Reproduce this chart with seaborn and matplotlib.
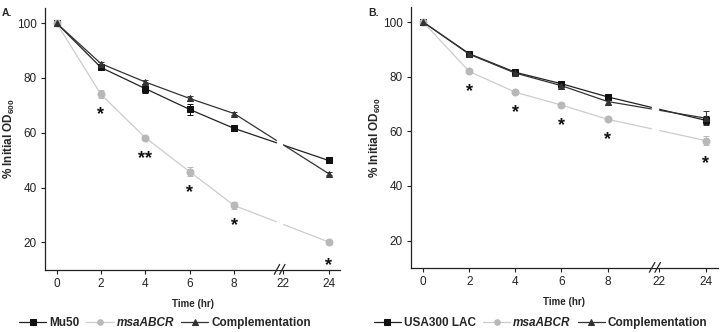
import numpy as np
import pandas as pd
import seaborn as sns
import matplotlib.pyplot as plt

# time points (hr) and where they sit on the broken axis
times = [0, 2, 4, 6, 8, 24]
tick_times = [0, 2, 4, 6, 8, 22, 24]
break_pos = 10.05


def axis_pos(t):
    # 0-8 linear, then axis break, 22 and 24 squeezed in after it
    t = np.asarray(t, dtype=float)
    return np.where(t <= 8, t, 10.22 + (t - 22) * 1.02)


# panel A
strains_a = ["Mu50", "msaABCR", "Complementation"]
mu50 = [100, 83.8, 76.1, 68.5, 61.6, 49.9]
mu50_err = [0.5, 0.8, 1.5, 2.0, 0.8, 0.8]
msa_a = [100, 74.0, 58.2, 45.8, 33.5, 20.2]
msa_a_err = [0.5, 1.5, 0.6, 1.6, 1.2, 0.6]
comp_a = [100, 85.2, 78.5, 72.5, 67.0, 45.1]
comp_a_err = [0.5, 0.7, 0.8, 1.0, 0.6, 0.6]
stars_a = ["", "*", "**", "*", "*", "*"]

# panel B
strains_b = ["USA300 LAC", "msaABCR", "Complementation"]
lac = [100, 88.4, 81.6, 77.4, 72.6, 64.0]
lac_err = [0.5, 0.6, 0.8, 1.0, 0.8, 1.5]
msa_b = [100, 81.9, 74.3, 69.6, 64.4, 56.6]
msa_b_err = [0.5, 0.5, 0.5, 0.5, 0.5, 1.5]
comp_b = [100, 88.2, 81.3, 76.7, 70.9, 64.8]
comp_b_err = [0.5, 0.6, 0.8, 1.4, 1.2, 2.5]
stars_b = ["", "*", "*", "*", "*", "*"]

sns.set_style("ticks")
plt.rcParams["font.family"] = ["Liberation Sans", "DejaVu Sans"]
plt.rcParams["mathtext.fontset"] = "custom"
plt.rcParams["mathtext.rm"] = "Liberation Sans"
plt.rcParams["mathtext.bf"] = "Liberation Sans:bold"

colors = ["#111111", "#b8b8b8", "#333333"]
line_colors = ["#222222", "#cccccc", "#333333"]
markers = ["s", "o", "^"]
msizes = [4.3, 5.0, 5.0]

fig = plt.figure(figsize=(7.2, 3.32), dpi=100)
ax_a = fig.add_axes([0.0625, 0.187, 0.41, 0.789])
ax_b = fig.add_axes([0.571, 0.193, 0.426, 0.786])


def draw_panel(ax, strains, series, errs, stars, label, leg_x):
    rows = []
    for name, vals in zip(strains, series):
        for t, v in zip(times, vals):
            rows.append({"strain": name, "time": t, "pos": float(axis_pos(t)), "od": v})
    df = pd.DataFrame(rows)
    for name, vals, err, c, lc, m, ms in zip(strains, series, errs, colors,
                                             line_colors, markers, msizes):
        sub = df[df["strain"] == name]
        ax.errorbar(sub["pos"], sub["od"], yerr=err, fmt="none", ecolor=c,
                    elinewidth=0.7, capsize=2, capthick=0.7, zorder=2)
        sns.lineplot(data=sub, x="pos", y="od", ax=ax, color=lc, lw=0.9,
                     marker=m, markersize=ms,
                     markerfacecolor=c, markeredgecolor=c, label=name, zorder=3)
    # asterisks under the mutant points
    msa = series[1]
    for t, v, s in zip(times, msa, stars):
        if s:
            off = 8.5 if t == 24 else 7.5
            ax.text(float(axis_pos(t)), v - off, s, ha="center", va="center",
                    fontsize=13, fontweight="bold", color="#111111")
    ax.set_xlim(-0.52, 12.78)
    ax.set_ylim(10, 105.5)
    ax.set_yticks([20, 40, 60, 80, 100])
    ax.set_xticks(axis_pos(tick_times))
    ax.set_xticklabels([str(t) for t in tick_times])
    ax.tick_params(labelsize=8.5, colors="#222222", length=3, width=0.8, pad=3)
    for sp in ["left", "bottom"]:
        ax.spines[sp].set_linewidth(0.9)
        ax.spines[sp].set_color("#222222")
    sns.despine(ax=ax)
    # axis break: white band through the lines, // on the axis
    ax.axvspan(break_pos - 0.12, break_pos + 0.12, color="white", zorder=4)
    for dx in (-0.12, 0.12):
        ax.plot([break_pos + dx - 0.12, break_pos + dx + 0.12], [8.4, 12.0],
                color="#222222", lw=0.9, clip_on=False, zorder=5)
    ax.set_xlabel("Time (hr)", fontsize=7, fontweight="bold", labelpad=6)
    ax.set_ylabel(r"% Initial OD$_{\bf 600}$", fontsize=8.5, fontweight="bold",
                  labelpad=0)
    handles, labels = ax.get_legend_handles_labels()
    ax.get_legend().remove()
    leg = fig.legend(handles, labels, loc="center", bbox_to_anchor=(leg_x, 0.028),
                     ncol=3, frameon=False, handlelength=2.3, columnspacing=0.6,
                     handletextpad=0.25, prop={"weight": "bold", "size": 8.5})
    for h in leg.legend_handles:
        h.set_markersize(4)
    leg.get_texts()[1].set_fontstyle("italic")
    fig.text(ax.get_position().x0 - 0.06, 0.975, label, fontsize=7.5,
             fontweight="bold", va="top")


draw_panel(ax_a, strains_a, [mu50, msa_a, comp_a],
           [mu50_err, msa_a_err, comp_a_err], stars_a, "A.", 0.229)
draw_panel(ax_b, strains_b, [lac, msa_b, comp_b],
           [lac_err, msa_b_err, comp_b_err], stars_b, "B.", 0.751)

fig.savefig("out.png", dpi=100)
